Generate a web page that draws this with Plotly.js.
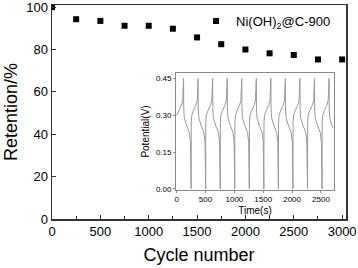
<!DOCTYPE html>
<html>
<head>
<meta charset="utf-8">
<script src="https://cdn.plot.ly/plotly-3.0.1.min.js"></script>
<style>html,body{margin:0;padding:0;background:#fff;}#chart{width:358px;height:268px;}</style>
</head>
<body>
<div id="chart"></div>
<script>
// Main series: capacity retention vs cycle number
const cycles = [0, 250, 500, 750, 1000, 1250, 1500, 1750, 2000, 2250, 2500, 2750, 3000];
const retention = [100, 94.3, 93.5, 91.2, 91.2, 89.8, 85.7, 82.5, 80.0, 78.2, 77.4, 75.3, 75.3];
const seriesName = "Ni(OH)<sub>2</sub>@C-900";

// Inset: galvanostatic charge-discharge curve (time in s, potential in V)
const gcdTime = [
  0, 40, 80, 105, 114, 120, 123, 132, 170, 220, 240, 248, 251,
  253, 262, 292, 332, 357, 366, 372, 375, 384, 422, 472, 492, 500, 503,
  505, 514, 544, 584, 609, 618, 624, 627, 636, 674, 724, 744, 752, 755,
  757, 766, 796, 836, 861, 870, 876, 879, 888, 926, 976, 996, 1004, 1007,
  1009, 1018, 1048, 1088, 1113, 1122, 1128, 1131, 1140, 1178, 1228, 1248, 1256, 1259,
  1261, 1270, 1300, 1340, 1365, 1374, 1380, 1383, 1392, 1430, 1480, 1500, 1508, 1511,
  1513, 1522, 1552, 1592, 1617, 1626, 1632, 1635, 1644, 1682, 1732, 1752, 1760, 1763,
  1765, 1774, 1804, 1844, 1869, 1878, 1884, 1887, 1896, 1934, 1984, 2004, 2012, 2015,
  2017, 2026, 2056, 2096, 2121, 2130, 2136, 2139, 2148, 2186, 2236, 2256, 2264, 2267,
  2269, 2278, 2308, 2348, 2373, 2382, 2388, 2391, 2400, 2438, 2488, 2508, 2516, 2519,
  2521, 2530, 2560, 2600, 2625, 2634, 2640, 2643, 2652, 2690, 2705
];
const gcdPotential = [
  0.30, 0.32, 0.34, 0.36, 0.40, 0.45, 0.33, 0.29, 0.26, 0.23, 0.19, 0.08, 0.00,
  0.27, 0.30, 0.32, 0.34, 0.36, 0.40, 0.45, 0.33, 0.29, 0.26, 0.23, 0.19, 0.08, 0.00,
  0.27, 0.30, 0.32, 0.34, 0.36, 0.40, 0.45, 0.33, 0.29, 0.26, 0.23, 0.19, 0.08, 0.00,
  0.27, 0.30, 0.32, 0.34, 0.36, 0.40, 0.45, 0.33, 0.29, 0.26, 0.23, 0.19, 0.08, 0.00,
  0.27, 0.30, 0.32, 0.34, 0.36, 0.40, 0.45, 0.33, 0.29, 0.26, 0.23, 0.19, 0.08, 0.00,
  0.27, 0.30, 0.32, 0.34, 0.36, 0.40, 0.45, 0.33, 0.29, 0.26, 0.23, 0.19, 0.08, 0.00,
  0.27, 0.30, 0.32, 0.34, 0.36, 0.40, 0.45, 0.33, 0.29, 0.26, 0.23, 0.19, 0.08, 0.00,
  0.27, 0.30, 0.32, 0.34, 0.36, 0.40, 0.45, 0.33, 0.29, 0.26, 0.23, 0.19, 0.08, 0.00,
  0.27, 0.30, 0.32, 0.34, 0.36, 0.40, 0.45, 0.33, 0.29, 0.26, 0.23, 0.19, 0.08, 0.00,
  0.27, 0.30, 0.32, 0.34, 0.36, 0.40, 0.45, 0.33, 0.29, 0.26, 0.23, 0.19, 0.08, 0.00,
  0.27, 0.30, 0.32, 0.34, 0.36, 0.40, 0.45, 0.33, 0.29, 0.26, 0.25
];

const mainX = [0, 500, 1000, 1500, 2000, 2500, 3000];
const mainY = [0, 20, 40, 60, 80, 100];
const insetX = [0, 500, 1000, 1500, 2000, 2500];
const insetY = [0.00, 0.15, 0.30, 0.45];

const FONT = "Liberation Sans";

const traces = [
  {
    x: cycles, y: retention, type: "scatter", mode: "markers",
    name: seriesName,
    marker: {symbol: "square", size: 6, color: "#000"},
    xaxis: "x", yaxis: "y"
  },
  {
    x: gcdTime, y: gcdPotential, type: "scatter", mode: "lines",
    line: {color: "#999999", width: 1},
    showlegend: false,
    xaxis: "x2", yaxis: "y2"
  }
];

const layout = {
  width: 358, height: 268,
  margin: {l: 52, r: 12, t: 5, b: 49},
  paper_bgcolor: "#fff", plot_bgcolor: "#fff",
  font: {family: FONT, color: "#000"},
  showlegend: true,
  legend: {
    x: 0.49, y: 0.995, xanchor: "left", yanchor: "top",
    bgcolor: "rgba(0,0,0,0)", font: {size: 13, family: FONT, color: "#000"},
    itemwidth: 30, tracegroupgap: 0
  },
  xaxis: {
    range: [0, 3040], tickvals: mainX, ticktext: mainX.map(String),
    ticks: "inside", ticklen: 4, tickwidth: 1, tickcolor: "#333",
    minor: {dtick: 250, tick0: 0, ticks: "inside", ticklen: 3, tickcolor: "#333"},
    showline: true, linecolor: "#333", linewidth: 1.5, mirror: true,
    showgrid: false, zeroline: false,
    tickfont: {size: 13, family: FONT},
    title: {text: "Cycle number", font: {size: 18, family: FONT}, standoff: 10},
    domain: [0, 1]
  },
  yaxis: {
    range: [0, 101], tickvals: mainY, ticktext: mainY.map(String),
    ticks: "inside", ticklen: 4, tickwidth: 1, tickcolor: "#333",
    ticklabeloverflow: "allow",
    showline: true, linecolor: "#333", linewidth: 1.5, mirror: true,
    showgrid: false, zeroline: false,
    tickfont: {size: 13, family: FONT},
    title: {text: "Retention/%", font: {size: 18, family: FONT}, standoff: 4},
    domain: [0, 1]
  },
  xaxis2: {
    anchor: "y2", domain: [0.422, 0.959],
    range: [-10, 2725], tickvals: insetX, ticktext: insetX.map(String),
    ticks: "outside", ticklen: 2, tickcolor: "#888",
    showline: true, linecolor: "#888", linewidth: 1, mirror: true,
    showgrid: false, zeroline: false,
    tickfont: {size: 8, family: FONT},
    title: {text: "Time(s)", font: {size: 10, family: FONT}, standoff: 3}
  },
  yaxis2: {
    anchor: "x2", domain: [0.136, 0.682],
    range: [-0.004, 0.472], tickvals: insetY, ticktext: insetY.map(v => v.toFixed(2)),
    ticks: "outside", ticklen: 2, tickcolor: "#888",
    showline: true, linecolor: "#888", linewidth: 1, mirror: true,
    showgrid: false, zeroline: false,
    tickfont: {size: 8, family: FONT},
    title: {text: "Potential(V)", font: {size: 10, family: FONT}, standoff: 4}
  }
};

Plotly.newPlot("chart", traces, layout, {staticPlot: true, displayModeBar: false});
</script>
</body>
</html>
